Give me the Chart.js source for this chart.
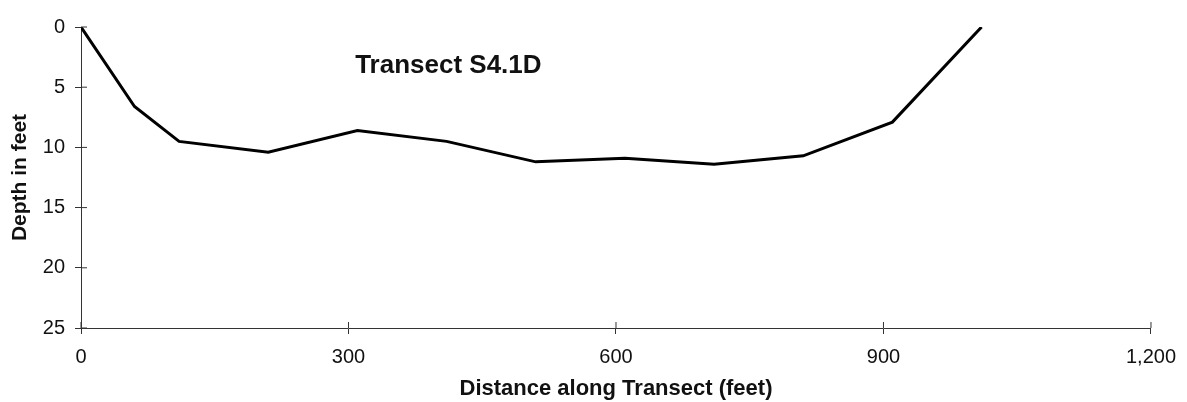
<!DOCTYPE html>
<html>
<head>
<meta charset="utf-8">
<script src="https://cdn.jsdelivr.net/npm/chart.js@4"></script>
<style>
  html, body { margin: 0; padding: 0; background: #fff; }
  #wrap { width: 1187px; height: 402px; }
</style>
</head>
<body>
<div id="wrap"><canvas id="transect" width="1187" height="402"></canvas></div>
<script>
// distance along transect (feet) and depth (feet)
const distances = [0, 60, 110, 210, 310, 410, 510, 610, 710, 810, 910, 1010];
const depths = [0, 6.6, 9.5, 10.4, 8.6, 9.5, 11.2, 10.9, 11.4, 10.7, 7.9, 0];
const chartTitle = 'Transect S4.1D';
const xTitle = 'Distance along Transect (feet)';
const yTitle = 'Depth in feet';

const FONT = '"Liberation Sans", Arial, sans-serif';

// title sits inside the plot area, plus tick marks that cross the axis lines
const innerBits = {
    id: 'innerBits',
    afterDraw(chart) {
        const ctx = chart.ctx;
        const xs = chart.scales.x, ys = chart.scales.y;
        ctx.save();
        ctx.strokeStyle = '#333';
        ctx.lineWidth = 1;
        xs.ticks.forEach((t, i) => {
            const px = xs.getPixelForTick(i);
            ctx.beginPath();
            ctx.moveTo(px, ys.bottom);
            ctx.lineTo(px, ys.bottom - 6);
            ctx.stroke();
        });
        ys.ticks.forEach((t, i) => {
            const py = ys.getPixelForTick(i);
            ctx.beginPath();
            ctx.moveTo(xs.left, py);
            ctx.lineTo(xs.left + 6, py);
            ctx.stroke();
        });
        ctx.fillStyle = '#111';
        ctx.font = 'bold 26px ' + FONT;
        ctx.textAlign = 'center';
        ctx.textBaseline = 'middle';
        ctx.fillText(chartTitle, xs.getPixelForValue(412), ys.getPixelForValue(3.2));
        ctx.restore();
    }
};

new Chart(document.getElementById('transect'), {
    type: 'line',
    data: {
        datasets: [{
            data: distances.map((d, i) => ({ x: d, y: depths[i] })),
            borderColor: '#000',
            borderWidth: 3,
            pointRadius: 0,
            tension: 0,
            fill: false
        }]
    },
    options: {
        responsive: false,
        animation: false,
        layout: { padding: { top: 27, right: 32, left: 0, bottom: 0 } },
        plugins: {
            legend: { display: false },
            tooltip: { enabled: false }
        },
        scales: {
            x: {
                type: 'linear',
                min: 0,
                max: 1200,
                ticks: {
                    stepSize: 300,
                    color: '#111',
                    padding: 11,
                    maxRotation: 0,
                    font: { family: FONT, size: 20 }
                },
                grid: { drawOnChartArea: false, tickLength: 6, color: '#333' },
                border: { color: '#333', width: 1, dash: [10, 3] },
                title: {
                    display: true,
                    text: xTitle,
                    color: '#111',
                    padding: { top: 0, bottom: 0 },
                    font: { family: FONT, size: 22, weight: 'bold' }
                },
                afterFit(scale) { scale.height = 74; }
            },
            y: {
                type: 'linear',
                reverse: true,
                min: 0,
                max: 25,
                ticks: {
                    stepSize: 5,
                    color: '#111',
                    padding: 10,
                    font: { family: FONT, size: 20 }
                },
                grid: { drawOnChartArea: false, tickLength: 6, color: '#333' },
                border: { color: '#333', width: 1, dash: [10, 3] },
                title: {
                    display: true,
                    text: yTitle,
                    color: '#111',
                    padding: { top: 8, bottom: 0 },
                    font: { family: FONT, size: 21, weight: 'bold' }
                },
                afterFit(scale) { scale.width = 81; }
            }
        }
    },
    plugins: [innerBits]
});
</script>
</body>
</html>
